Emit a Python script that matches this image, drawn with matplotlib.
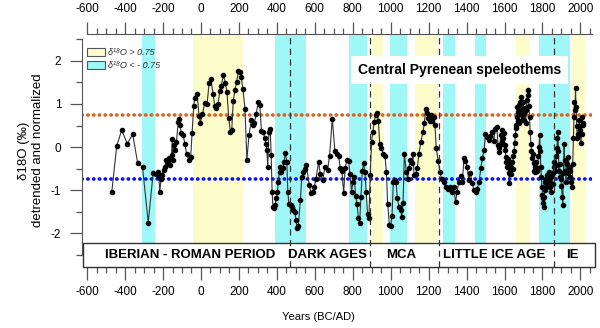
import matplotlib
matplotlib.use("Agg")
import matplotlib.pyplot as plt
from matplotlib.patches import Patch, Rectangle
from matplotlib.ticker import MultipleLocator

plt.rcParams['font.family'] = ['Liberation Sans', 'DejaVu Sans']
plt.rcParams['axes.unicode_minus'] = False

# delta18O record (detrended and normalized)
years = [-470, -444, -418, -388, -360, -334, -308, -278, -252, -239,
         -229, -222, -217, -211, -204, -197, -190, -183, -176, -169,
         -162, -155, -152, -148, -141, -138, -129, -120, -117, -112,
         -103, -94, -85, -76, -64, -54, -47, -38, -33, -20,
         -10, -3, 8, 20, 32, 43, 51, 64, 72, 81,
         90, 99, 107, 118, 128, 137, 146, 155, 162, 170,
         179, 188, 197, 204, 212, 221, 232, 242, 253, 265,
         274, 282, 291, 302, 310, 319, 328, 337, 342, 347,
         352, 358, 365, 370, 375, 379, 384, 391, 396, 403,
         407, 414, 419, 424, 431, 438, 445, 452, 458, 463,
         472, 480, 487, 494, 501, 507,
         513, 524, 531, 540, 548, 555, 571, 580, 589, 597,
         606, 620, 629, 641, 654, 667, 678, 692, 706, 717,
         725, 734, 743, 752, 760, 769, 778, 785, 794, 801,
         808, 815, 822, 830, 836, 843, 850, 857, 864, 871,
         878, 885, 892, 899, 906, 913, 921, 928, 935, 942,
         951, 962, 970, 977, 984, 993, 1000, 1007, 1014, 1021,
         1028, 1035, 1044, 1053, 1058, 1065, 1072,
         1082, 1090, 1096, 1102, 1110, 1117, 1123, 1131, 1140, 1149,
         1159, 1170, 1177, 1184, 1191, 1198, 1205, 1212, 1219, 1226,
         1233, 1240, 1251, 1259, 1268, 1279, 1289, 1300, 1310, 1321,
         1331, 1342, 1350, 1359, 1368, 1377, 1387, 1394, 1403, 1411,
         1420, 1429, 1440, 1448, 1457, 1466, 1475, 1483, 1492, 1499,
         1508, 1517, 1524, 1534, 1543, 1552, 1559, 1566,
         1569, 1572, 1576, 1580, 1584, 1588, 1592, 1596, 1600, 1604,
         1607, 1610, 1613, 1616, 1619, 1622, 1625, 1628, 1632, 1636,
         1639, 1643, 1646, 1650, 1654, 1657, 1660, 1662, 1664, 1666,
         1669, 1672, 1675, 1678, 1681, 1684, 1687, 1690, 1692, 1694,
         1697, 1700, 1704, 1707, 1711, 1714, 1718, 1721, 1725, 1728,
         1732, 1735, 1739, 1742, 1746, 1749, 1753, 1756, 1760, 1763,
         1767, 1770, 1774, 1778, 1781, 1785, 1788, 1791, 1794, 1797,
         1800, 1802, 1804, 1806, 1809, 1812, 1815, 1818, 1820, 1823,
         1826, 1829, 1832, 1835, 1838, 1841, 1844, 1847, 1850, 1853,
         1856, 1860, 1863, 1866, 1870, 1873, 1876, 1879, 1881, 1884,
         1887, 1890, 1893, 1896, 1900, 1904, 1907, 1910, 1914, 1917,
         1920, 1924, 1927, 1930, 1934, 1937, 1940, 1944, 1947, 1951,
         1956, 1959, 1963, 1966, 1968, 1971, 1974, 1977, 1980, 1984,
         1988, 1991, 1995, 1999, 2002, 2006, 2009, 2013, 2016]
d18o = [-1.04, 0.03, 0.39, 0.08, 0.30, -0.36, -0.47, -1.75, -0.60, -0.63,
        -0.57, -0.69, -1.04, -0.73, -0.65, -0.53, -0.46, -0.30, -0.38, -0.26,
        -0.42, -0.19, 0.18, -0.30, 0.04, -0.07, 0.12, 0.59, 0.66, 0.51,
        0.32, 0.28, 0.08, -0.15, -0.30, -0.22, 0.32, 0.96, 1.14, 1.22,
        0.72, 0.57, 0.76, 1.03, 0.99, 1.49, 1.57, 1.24, 0.96, 0.91,
        1.01, 1.30, 1.42, 1.68, 1.49, 1.28, 0.68, 0.35, 0.39, 1.06,
        1.32, 1.51, 1.76, 1.73, 1.63, 1.34, 0.88, -0.30, 0.28, 0.62,
        0.52, 0.57, 0.77, 1.05, 0.97, 0.37, 0.34, 0.20, 0.08, -0.07,
        -0.46, 0.35, 0.43, -0.19, -1.04, -1.38, -1.42, -1.34, -1.19, -1.04,
        -0.80, -0.57, -0.46, -0.57, -0.49, -0.34, -0.13, -0.34, -1.04, -1.31,
        -1.34, -1.38, -1.46, -1.50, -1.69, -1.87,
        -1.84, -1.23, -0.69, -0.57, -0.50, -0.42, -0.88, -1.07, -1.05, -0.92,
        -0.74, -0.34, -0.63, -0.77, -0.46, -0.53, -0.20, 0.66, -0.09, -0.17,
        -0.20, -0.48, -0.56, -1.07, -0.49, -0.30, -0.32, -0.63, -1.03, -0.80,
        -0.69, -1.13, -1.31, -1.64, -1.77, -1.15, -0.56, -0.38, -0.57, -1.04,
        -1.54, -1.64, -0.65, 0.12, 0.35, 0.59, 0.74, 0.80, 0.60, 0.08,
        -0.03, -0.15, -0.20, -0.57, -1.31, -1.81, -1.82, -1.59, -0.80, -0.77,
        -0.80, -1.19, -1.38, -1.45, -1.61, -1.30, -0.15,
        -0.57, -0.73, -0.49, -0.30, -0.38, -0.17, -0.65, -0.63, -0.49, -0.15,
        0.12, 0.35, 0.55, 0.88, 0.80, 0.68, 0.60, 0.74, 0.60, 0.70,
        0.52, -0.02, -0.33, -0.57, -0.73, -0.80, -0.92, -0.97, -0.92, -1.04,
        -0.92, -1.27, -1.04, -0.80, -0.66, -0.80, -0.25, -0.32, -0.46, -0.77,
        -0.59, -0.84, -0.99, -1.05, -0.96, -0.80, -0.49, -0.26, -0.07, 0.30,
        0.24, 0.16, 0.26, 0.35, 0.14, 0.43, 0.47, 0.05,
        -0.03, -0.12, 0.05, 0.28, 0.12, 0.39, 0.20, 0.33, 0.05, -0.07,
        -0.22, -0.35, -0.46, -0.28, -0.40, -0.60, -0.84, -0.55, -0.45, -0.62,
        -0.34, -0.50, -0.20, -0.08, 0.10, 0.28, 0.45, 0.51, 0.70, 0.93,
        0.60, 0.82, 0.55, 0.97, 0.80, 1.05, 1.16, 0.85, 0.62, 0.74,
        1.05, 0.80, 0.62, 0.90, 0.55, 0.85, 1.09, 1.20, 1.32, 0.95,
        0.70, 0.35, 0.08, -0.10, -0.26, -0.15, -0.38, -0.55, -0.57, -0.45,
        -0.34, -0.55, -0.48, -0.20, 0.01, 0.28, -0.10, -0.45, -0.70, -0.92,
        -1.10, -1.19, -1.30, -1.38, -1.15, -1.00, -0.80, -0.92, -0.75, -0.65,
        -0.85, -0.72, -0.58, -0.78, -0.70, -0.92, -1.05, -0.85, -0.68, -0.85,
        -0.60, -0.45, -0.34, -0.55, -0.42, -0.20, -0.03, 0.20, 0.35, -0.10,
        -0.55, -0.40, -0.70, -0.75, -0.90, -1.15, -1.34, -0.60, 0.08, -0.30,
        -0.55, -0.80, -0.55, -0.40, -0.60, -0.23, -0.45, -0.55, -0.70, -0.80,
        -0.92, -0.40, 0.20, 0.70, 1.05, 0.85, 1.36, 0.93, 0.50, 0.20,
        0.30, 0.50, 0.62, 0.40, 0.10, 0.30, 0.70, 0.55, 0.51]

# shaded intervals (start, end)
wet_bands = [(-310, -240), (390, 555), (780, 875), (997, 1086),
             (1275, 1338), (1443, 1501), (1779, 1947)]
dry_bands = [(-40, 220), (902, 960), (1128, 1249), (1658, 1732), (1958, 2026)]
boundaries = [471, 891, 1254, 1863]
periods = ["IBERIAN - ROMAN PERIOD", "DARK AGES", "MCA", "LITTLE ICE AGE", "IE"]
period_mid = [-59, 666, 1054, 1548, 1958]
threshold = 0.75

cyan = '#9ff7f7'
yellow = '#fdfdcc'

fig = plt.figure(figsize=(6, 3.28), dpi=100)
ax = fig.add_axes([0.137, 0.186, 0.85, 0.71])
ax.set_xlim(-626, 2062)
ax.set_ylim(-2.78, 2.62)

for a, b in wet_bands:
    ax.axvspan(a, b, ymin=0.09, ymax=1, color=cyan, lw=0, zorder=1)
for a, b in dry_bands:
    ax.axvspan(a, b, ymin=0.09, ymax=1, color=yellow, lw=0, zorder=1)

ax.axhline(threshold, color='#e0621a', lw=2.6, ls=(0, (0.1, 1.5)),
           dash_capstyle='round', zorder=2)
ax.axhline(-threshold, color='#0a0aff', lw=2.6, ls=(0, (0.1, 1.5)),
           dash_capstyle='round', zorder=2)

ax.plot(years, d18o, color='#333333', lw=0.8, marker='o', ms=3.0,
        mfc='black', mec='black', zorder=3)

# period box at the bottom
ax.add_patch(Rectangle((-621, -2.78), 2700, 0.56, facecolor='white',
                       edgecolor='#333333', lw=1, zorder=4, clip_on=False))
for name, xm in zip(periods, period_mid):
    ax.text(xm, -2.5, name, ha='center', va='center', fontsize=9.5,
            fontweight='bold', zorder=6)

for b in boundaries:
    ax.axvline(b, color='#333333', lw=0.9, ls=(0, (5, 3.5)), zorder=5)

ax.text(1364, 1.78, "Central Pyrenean speleothems", ha='center', va='center',
        fontsize=10, fontweight='bold', zorder=6,
        bbox=dict(boxstyle='square,pad=0.5', facecolor='white', edgecolor='none'))

handles = [Patch(facecolor=yellow, edgecolor='#555555', lw=0.8),
           Patch(facecolor=cyan, edgecolor='#555555', lw=0.8)]
leg = ax.legend(handles, ["δ¹⁸O > 0.75", "δ¹⁸O < - 0.75"], loc='upper left',
                bbox_to_anchor=(0.01, 0.94), frameon=False, fontsize=6.5,
                handlelength=2.0, handleheight=0.9, labelspacing=0.45,
                handletextpad=0.3, borderpad=0, borderaxespad=0)
for t in leg.get_texts():
    t.set_fontstyle('italic')
    t.set_color('#333333')

# axes styling
ax.spines['right'].set_visible(False)
ax.spines['left'].set_bounds(-2.5, 2.5)
ax.spines['top'].set_bounds(-600, 2062)
ax.spines['bottom'].set_bounds(-621, 2062)
for s in ['left', 'top', 'bottom']:
    ax.spines[s].set_color('#555555')

ax.xaxis.set_minor_locator(MultipleLocator(50))
ax.yaxis.set_minor_locator(MultipleLocator(0.5))
ax.set_xticks(range(-600, 2001, 200))
ax.set_yticks([-2, -1, 0, 1, 2])
ax.tick_params(axis='x', which='both', top=True, labeltop=True, bottom=True,
               direction='out', color='#555555', labelsize=8.5)
ax.tick_params(axis='x', which='major', pad=5)
ax.tick_params(axis='y', which='both', direction='out', color='#555555',
               labelsize=8.5)
ax.tick_params(axis='y', which='major', pad=6)
ax.tick_params(which='major', length=9, width=0.9)
ax.tick_params(which='minor', length=4, width=0.9)

ax.set_ylabel("δ18O (‰)\ndetrended and normalized", fontsize=9.5, labelpad=5)
fig.text(0.53, 0.034, "Years (BC/AD)", ha='center', va='center', fontsize=8)

fig.savefig("out.png", dpi=100)
